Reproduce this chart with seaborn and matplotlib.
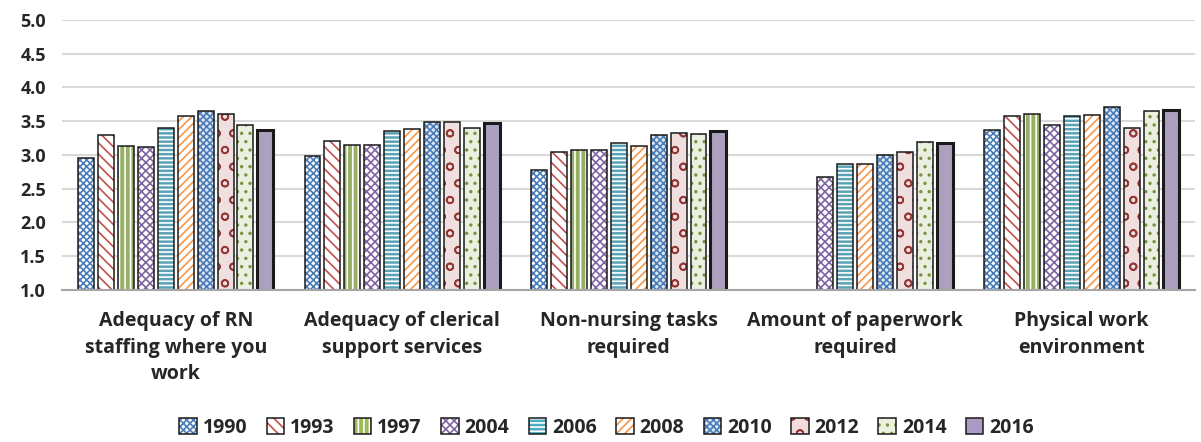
import matplotlib.pyplot as plt
import numpy as np
import pandas as pd
import seaborn as sns
from matplotlib.patches import Patch, Rectangle

sns.set_theme(style='white')
plt.rcParams['font.family'] = ['Open Sans', 'DejaVu Sans']
plt.rcParams['font.weight'] = 'bold'
plt.rcParams['hatch.linewidth'] = 1.2

categories = ['Adequacy of RN\nstaffing where you\nwork',
              'Adequacy of clerical\nsupport services',
              'Non-nursing tasks\nrequired',
              'Amount of paperwork\nrequired',
              'Physical work\nenvironment']
years = ['1990', '1993', '1997', '2004', '2006', '2008', '2010', '2012', '2014', '2016']

# one list per year, values for the five categories (nan = not asked)
v1990 = [2.96, 2.98, 2.78, np.nan, 3.37]
v1993 = [3.29, 3.20, 3.05, np.nan, 3.58]
v1997 = [3.13, 3.15, 3.08, np.nan, 3.60]
v2004 = [3.12, 3.14, 3.08, 2.67, 3.44]
v2006 = [3.40, 3.36, 3.17, 2.86, 3.57]
v2008 = [3.58, 3.39, 3.13, 2.87, 3.59]
v2010 = [3.65, 3.49, 3.30, 3.00, 3.71]
v2012 = [3.60, 3.49, 3.33, 3.04, 3.40]
v2014 = [3.44, 3.40, 3.31, 3.19, 3.65]
v2016 = [3.37, 3.48, 3.35, 3.18, 3.67]
series = [v1990, v1993, v1997, v2004, v2006, v2008, v2010, v2012, v2014, v2016]

rows = []
for yr, vals in zip(years, series):
    for c, v in zip(categories, vals):
        rows.append({'cat': c, 'year': yr, 'score': v})
df = pd.DataFrame(rows)

# face colour, hatch colour, hatch pattern
styles = {
    '1990': ('white', '#4A7EBB', 'xxxxx'),
    '1993': ('white', '#C0504D', '\\\\\\'),
    '1997': ('#9BBB59', 'white', '|||'),
    '2004': ('white', '#8064A2', 'xxxx'),
    '2006': ('#4BACC6', 'white', '----'),
    '2008': ('white', '#F79646', '////'),
    '2010': ('#DCE6F2', '#4A7EBB', 'xxxxx'),
    '2012': ('#F2DCDB', '#953735', 'o'),
    '2014': ('#EBF1DE', '#77933C', '..'),
    '2016': ('#A99BC3', '#A99BC3', ''),
}
palette = {y: styles[y][0] for y in years}

fig = plt.figure(figsize=(12.01, 4.42), dpi=100)
ax = fig.add_axes([0.052, 0.344, 0.943, 0.611])
sns.barplot(data=df, x='cat', y='score', hue='year', hue_order=years, order=categories,
            palette=palette, width=0.88, gap=0.2, legend=False, ax=ax, zorder=2)

for yr, cont in zip(years, ax.containers):
    face, hcol, hatch = styles[yr]
    lw = 2.2 if yr == '2016' else 1.1
    for p in cont.patches:
        if np.isnan(p.get_height()):
            continue
        p.set_hatch(hatch)
        p.set_edgecolor(hcol)
        p.set_linewidth(0)
        ax.add_patch(Rectangle(p.get_xy(), p.get_width(), p.get_height(), fill=False,
                               edgecolor='#1a1a1a', linewidth=lw, zorder=3))

ax.set_ylim(1.0, 5.0)
ax.set_yticks(np.arange(1.0, 5.01, 0.5))
ax.set_yticklabels([f'{t:.1f}' for t in np.arange(1.0, 5.01, 0.5)], fontsize=13, fontweight='bold')
ax.yaxis.grid(True, color='#D9D9D9', linewidth=1.5, zorder=0)
ax.set_axisbelow(True)
for s in ['top', 'right', 'left']:
    ax.spines[s].set_visible(False)
ax.spines['bottom'].set_color('#A6A6A6')
ax.spines['bottom'].set_linewidth(1.5)
ax.spines['bottom'].set_zorder(4)
ax.tick_params(axis='both', length=0)
ax.tick_params(axis='x', pad=15)
ax.tick_params(axis='y', pad=12)
ax.set_xticks(range(len(categories)))
ax.set_xticklabels(categories, fontsize=14, fontweight='bold', linespacing=1.45)
ax.set_xlabel('')
ax.set_ylabel('')

handles = []
for yr in years:
    face, hcol, hatch = styles[yr]
    h1 = Patch(facecolor=face, edgecolor=hcol, hatch=hatch, linewidth=0)
    h2 = Patch(facecolor='none', edgecolor='#1a1a1a', linewidth=1.1)
    handles.append((h1, h2))
fig.legend(handles, years, loc='lower center', bbox_to_anchor=(0.505, -0.03), ncol=10,
           frameon=False, prop={'size': 14, 'weight': 'bold'},
           handlelength=0.9, handleheight=0.9, handletextpad=0.3, columnspacing=1.0)

plt.savefig('out.png', dpi=100)
